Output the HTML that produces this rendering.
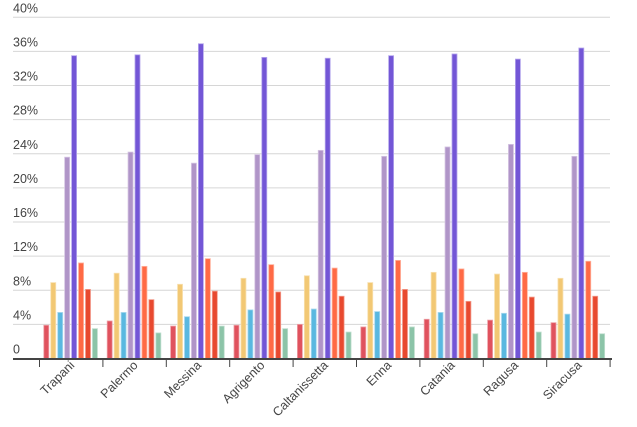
<!DOCTYPE html>
<html><head><meta charset="utf-8"><style>
html,body{margin:0;padding:0;background:#fff;}
svg{display:block;font-family:"Liberation Sans",Arial,sans-serif;}
</style></head><body>
<svg id="c" width="637" height="427" xmlns="http://www.w3.org/2000/svg"></svg>
<script>
const s=document.getElementById('c');
const NS='http://www.w3.org/2000/svg';
function el(t,a,txt){const e=document.createElementNS(NS,t);for(const k in a)e.setAttribute(k,a[k]);if(txt!==undefined)e.textContent=txt;s.appendChild(e);return e;}
const y0=358.5,k=8.53;
for(let i=1;i<=10;i++){const y=y0-i*4*k;el('line',{x1:13,x2:610,y1:y,y2:y,stroke:'#d6d6d6','stroke-width':1});}
for(let i=0;i<=10;i++){const y=y0-i*4*k;el('text',{x:13,y:y-5,'font-size':12.5,fill:'#444'},i==0?'0':(i*4)+'%');}
const cats=['Trapani','Palermo','Messina','Agrigento','Caltanissetta','Enna','Catania','Ragusa','Siracusa'];
const data=[
[3.9,8.9,5.4,23.6,35.5,11.2,8.1,3.5],
[4.4,10.0,5.4,24.2,35.6,10.8,6.9,3.0],
[3.8,8.7,4.9,22.9,36.9,11.7,7.9,3.8],
[3.9,9.4,5.7,23.9,35.3,11.0,7.8,3.5],
[4.0,9.7,5.8,24.4,35.2,10.6,7.3,3.1],
[3.7,8.9,5.5,23.7,35.5,11.5,8.1,3.7],
[4.6,10.1,5.4,24.8,35.7,10.5,6.7,2.9],
[4.5,9.9,5.3,25.1,35.1,10.1,7.2,3.1],
[4.2,9.4,5.2,23.7,36.4,11.4,7.3,2.9]];
const cols=['#e0525e','#f2c874','#5ab8e0','#b095c8','#7356d6','#ff6a45','#e8492f','#8cc4a8'];
const strokes=['#eda0a6','#f8e0b0','#a8d8ee','#d4c4e2','#b4a6ec','#ffb09c','#f29c8c','#c0dfcf'];
const x0=39.5,cw=63.4;
data.forEach((g,ci)=>{
 const gx=x0+ci*cw+4.3;
 g.forEach((v,bi)=>{
  const h=v*k,x=gx+bi*6.95;
  el('rect',{x:x,y:y0-h,width:5,height:h,fill:cols[bi],stroke:strokes[bi],'stroke-width':0.8});
 });
 const cx=x0+ci*cw+cw/2+4;
 el('text',{x:cx,y:366,'font-size':12.5,fill:'#444','text-anchor':'end',transform:`rotate(-45 ${cx} 366)`},cats[ci]);
});
for(let i=0;i<=9;i++){const x=x0+i*cw;el('line',{x1:x,x2:x,y1:358,y2:367,stroke:'#444','stroke-width':1});}
el('line',{x1:13,x2:612,y1:359,y2:359,stroke:'#444','stroke-width':2});
</script>
</body></html>
